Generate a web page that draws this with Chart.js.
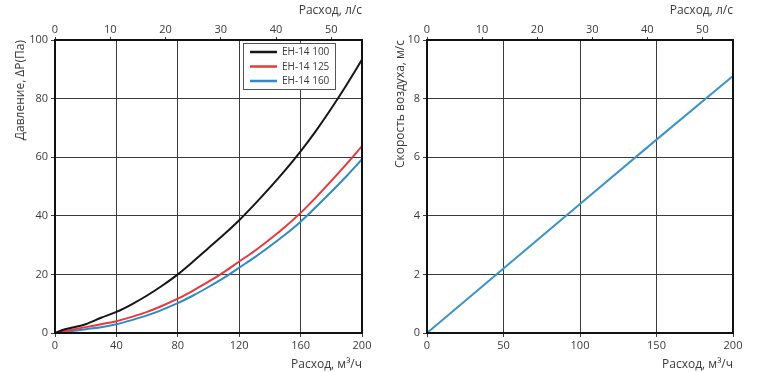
<!DOCTYPE html>
<html>
<head>
<meta charset="utf-8">
<script src="https://cdn.jsdelivr.net/npm/chart.js@4.4.1/dist/chart.umd.min.js"></script>
<style>
  body { margin: 0; background: #fff; }
  #wrap { display: flex; width: 762px; height: 372px; }
  canvas { display: block; }
</style>
</head>
<body>
<div id="wrap">
  <canvas id="pressurechart" width="380" height="372"></canvas>
  <canvas id="speedchart" width="382" height="372"></canvas>
</div>
<script>
  // Setup Block
  const flow_m3h = [0, 5, 10, 20, 30, 40, 50, 60, 70, 80, 90, 100, 110, 120, 130, 140, 150, 160, 170, 180, 190, 200];
  const dp_eh100 = [0, 1.0, 1.7, 3.0, 5.2, 7.2, 9.8, 12.8, 16.2, 20, 24.4, 29, 33.6, 38.5, 43.9, 49.6, 55.6, 62, 69, 76.6, 84.7, 93.3];
  const dp_eh125 = [0, 0.5, 1.0, 2.0, 3.0, 4.0, 5.5, 7.2, 9.3, 11.7, 14.5, 17.5, 20.8, 24.4, 28, 32, 36.3, 41, 46.3, 51.9, 57.7, 63.8];
  const dp_eh160 = [0, 0.3, 0.6, 1.3, 2.0, 3.0, 4.4, 6.0, 8.0, 10.2, 12.8, 15.7, 18.8, 22.3, 25.8, 29.6, 33.6, 38, 43, 48.2, 53.6, 59.3];
  const series_labels = ['EH-14 100', 'EH-14 125', 'EH-14 160'];
  const series_colors = ['#161616', '#e8383c', '#2f8ac6'];

  const speed_flow = [0, 50, 100, 150, 200];
  const speed_ms = [0, 2.2, 4.4, 6.6, 8.77];

  const ls_ticks = [0, 10, 20, 30, 40, 50];

  const toXY = (xs, ys) => xs.map((x, i) => ({ x: x, y: ys[i] }));

  const FONT = '"Open Sans", "DejaVu Sans", sans-serif';
  const TXT = '#3a3a3a';
  const GRID = '#3c3c3c';

  // frame + legend box drawn on top of the chart area
  const framePlugin = {
    id: 'frame',
    afterDatasetsDraw(chart) {
      const a = chart.chartArea, ctx = chart.ctx;
      ctx.save();
      ctx.strokeStyle = '#111';
      ctx.lineWidth = 2;
      ctx.strokeRect(a.left, a.top, a.right - a.left, a.bottom - a.top);
      ctx.restore();
    }
  };

  const boxLegend = {
    id: 'boxLegend',
    afterDraw(chart) {
      const a = chart.chartArea, ctx = chart.ctx;
      const x0 = a.left + 188, y0 = a.top + 3, w = 92, h = 46;
      ctx.save();
      ctx.fillStyle = '#fff';
      ctx.fillRect(x0, y0, w, h);
      ctx.strokeStyle = '#555';
      ctx.lineWidth = 1;
      ctx.strokeRect(x0 + 0.5, y0 + 0.5, w, h);
      ctx.font = '10px ' + FONT;
      ctx.textBaseline = 'middle';
      chart.data.datasets.forEach((ds, i) => {
        const yy = y0 + 9 + i * 14.5;
        ctx.strokeStyle = ds.borderColor;
        ctx.lineWidth = 2.5;
        ctx.beginPath();
        ctx.moveTo(x0 + 7, yy);
        ctx.lineTo(x0 + 34, yy);
        ctx.stroke();
        ctx.fillStyle = TXT;
        ctx.fillText(ds.label, x0 + 39, yy + 0.5);
      });
      ctx.restore();
    }
  };

  function axes(xStep, yMax, yStep, yTitle, leftW) {
    return {
      x: {
        type: 'linear', position: 'bottom', min: 0, max: 200,
        afterFit: (s) => { s.height = 39; },
        ticks: { stepSize: xStep, color: TXT, font: { family: FONT, size: 11 }, padding: 2, maxRotation: 0 },
        grid: { color: GRID, lineWidth: 1, tickLength: 4, tickColor: GRID },
        border: { display: false },
        title: { display: true, text: 'Расход, м³/ч', align: 'end', color: TXT, font: { family: FONT, size: 12 }, padding: 0 }
      },
      xTop: {
        type: 'linear', position: 'top', min: 0, max: 200 / 3.6,
        afterFit: (s) => { s.height = 40; },
        afterBuildTicks: (s) => { s.ticks = ls_ticks.map(v => ({ value: v })); },
        ticks: { color: TXT, font: { family: FONT, size: 11 }, padding: 1, maxRotation: 0 },
        grid: { drawOnChartArea: false, tickLength: 3, tickColor: GRID },
        border: { display: false },
        title: { display: true, text: 'Расход, л/с', align: 'end', color: TXT, font: { family: FONT, size: 12 }, padding: { top: 3, bottom: 0 } }
      },
      y: {
        type: 'linear', min: 0, max: yMax,
        afterFit: (s) => { s.width = leftW; },
        ticks: { stepSize: yStep, color: TXT, font: { family: FONT, size: 11 }, padding: 3 },
        grid: { color: GRID, lineWidth: 1, tickLength: 4, tickColor: GRID },
        border: { display: false },
        title: { display: true, text: yTitle, align: 'end', color: TXT, font: { family: FONT, size: 12 }, padding: { top: 0, bottom: 0 } }
      }
    };
  }

  // PRESSURE DROP CHART
  const data_pressure = {
    datasets: [
      { label: series_labels[0], data: toXY(flow_m3h, dp_eh100), borderColor: series_colors[0], borderWidth: 2 },
      { label: series_labels[1], data: toXY(flow_m3h, dp_eh125), borderColor: series_colors[1], borderWidth: 2 },
      { label: series_labels[2], data: toXY(flow_m3h, dp_eh160), borderColor: series_colors[2], borderWidth: 2 }
    ]
  };

  const config_pressure = {
    type: 'line',
    data: data_pressure,
    plugins: [framePlugin, boxLegend],
    options: {
      responsive: false,
      animation: false,
      layout: { padding: { left: 13, right: 18, top: 0, bottom: 0 } },
      elements: { point: { radius: 0 }, line: { tension: 0.3, cubicInterpolationMode: 'monotone' } },
      scales: axes(40, 100, 20, 'Давление, ΔP(Па)', 42),
      plugins: { legend: { display: false }, tooltip: { enabled: false } }
    }
  };

  const pressurechart = new Chart(document.getElementById('pressurechart'), config_pressure);

  // AIR SPEED CHART
  const data_speed = {
    datasets: [
      { label: 'speed', data: toXY(speed_flow, speed_ms), borderColor: '#3d92c8', borderWidth: 2 }
    ]
  };

  const config_speed = {
    type: 'line',
    data: data_speed,
    plugins: [framePlugin],
    options: {
      responsive: false,
      animation: false,
      layout: { padding: { left: 13, right: 29, top: 0, bottom: 0 } },
      elements: { point: { radius: 0 }, line: { tension: 0 } },
      scales: axes(50, 10, 2, 'Скорость воздуха, м/с', 34),
      plugins: { legend: { display: false }, tooltip: { enabled: false } }
    }
  };

  const speedchart = new Chart(document.getElementById('speedchart'), config_speed);
</script>
</body>
</html>
